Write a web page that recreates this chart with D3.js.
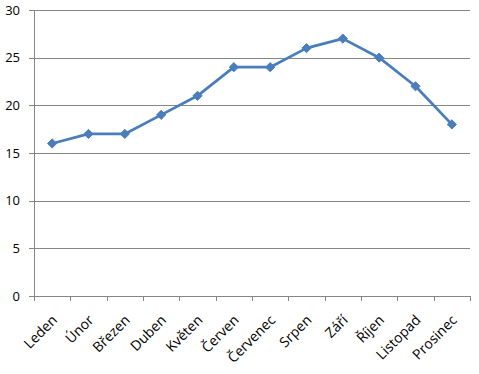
<!DOCTYPE html>
<html><head><meta charset="utf-8">
<script src="https://cdn.jsdelivr.net/npm/d3@7"></script>
<style>body{margin:0;background:#fff}svg{display:block}text{font-family:"Open Sans","Liberation Sans",sans-serif;fill:#000}</style>
</head><body>
<svg id="c" width="479" height="374"></svg>
<script>
const categories = ["Leden","Únor","Březen","Duben","Květen","Červen","Červenec","Srpen","Září","Říjen","Listopad","Prosinec"];
const values = [16,17,17,19,21,24,24,26,27,25,22,18];
const yTicks = [0,5,10,15,20,25,30];

(function(){
const svg = d3.select("#c");
const mL = 34, mR = 470, mT = 10, mB = 296;
const x = d3.scaleBand().domain(categories).range([mL, mR]);
const y = d3.scaleLinear().domain([0,30]).range([mB, mT]);

svg.append("g").selectAll("line").data(yTicks).join("line")
  .attr("x1", mL - 5).attr("x2", mR)
  .attr("y1", d => Math.round(y(d)) + 0.5).attr("y2", d => Math.round(y(d)) + 0.5)
  .attr("stroke", "#868686").attr("stroke-width", 1);

svg.append("line").attr("x1", mL + 0.5).attr("x2", mL + 0.5)
  .attr("y1", mT).attr("y2", mB + 0.5).attr("stroke", "#868686");

svg.append("g").selectAll("text").data(yTicks).join("text")
  .attr("x", mL - 14).attr("y", d => y(d)).attr("dy", "0.36em")
  .attr("text-anchor", "end").style("font-size", "13px").text(d => d);

const bounds = categories.map(c => x(c)).concat([mR]);
svg.append("g").selectAll("line").data(bounds).join("line")
  .attr("x1", d => Math.round(d) + 0.5).attr("x2", d => Math.round(d) + 0.5)
  .attr("y1", mB).attr("y2", mB + 5).attr("stroke", "#868686");

svg.append("g").selectAll("text").data(categories).join("text")
  .attr("transform", d => `translate(${x(d) + x.bandwidth()/2 + 6},${mB + 25}) rotate(-45)`)
  .attr("text-anchor", "end").style("font-size", "14px").text(d => d);

const cx = d => x(d) + x.bandwidth()/2;
const line = d3.line().x((d,i) => cx(categories[i])).y(d => y(d));
svg.append("path").datum(values).attr("d", line)
  .attr("fill", "none").attr("stroke", "#4a7ebb").attr("stroke-width", 2.75).attr("stroke-linejoin", "round");

svg.append("g").selectAll("path").data(values).join("path")
  .attr("transform", (d,i) => `translate(${cx(categories[i])},${y(d)})`)
  .attr("d", "M0,-4.6L4.6,0L0,4.6L-4.6,0Z")
  .attr("fill", "#4a7ebb").attr("stroke", "#4a7ebb").attr("stroke-width", 1);
})();
</script>
</body></html>
